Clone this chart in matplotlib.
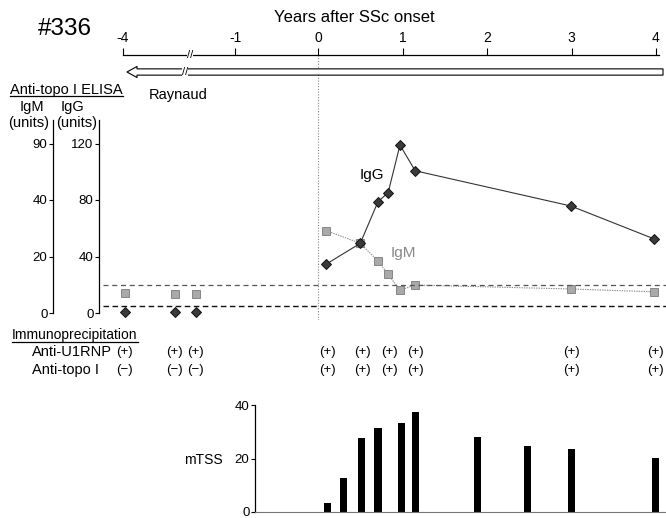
import numpy as np
import matplotlib
matplotlib.use('Agg')
import matplotlib.pyplot as plt
from matplotlib import transforms
from matplotlib.lines import Line2D

plt.rcParams['font.family'] = ['Liberation Sans', 'DejaVu Sans']

# ---------------- data ----------------
year_ticks = [-4, -1, 0, 1, 2, 3, 4]
year_labels = ['-4', '-1', '0', '1', '2', '3', '4']
elisa_years = [-3.95, -2.61, -2.05, 0.10, 0.50, 0.71, 0.83, 0.97, 1.15, 2.99, 3.98]
igg_units = [0.5, 0.5, 0.5, 34.7, 49.3, 78.8, 85.2, 118.9, 100.7, 75.8, 52.4]
igm_units = [7.2, 6.6, 6.6, 29.1, 24.7, 18.4, 13.7, 8.1, 9.9, 8.5, 7.5]
igg_ticks = [0, 40, 80, 120]
igm_ticks = [0, 20, 40, 90]
igm_cutoff = 10
igg_cutoff = 5
ip_years = [-3.97, -2.61, -2.05, 0.11, 0.52, 0.84, 1.15, 3.00, 3.99]
anti_u1rnp = ['(+)'] * 9
anti_topo = ['(\u2212)'] * 3 + ['(+)'] * 6
mtss_years = [0.11, 0.30, 0.51, 0.71, 0.99, 1.15, 1.89, 2.48, 3.00, 3.99]
mtss = [3.5, 12.8, 27.8, 31.5, 33.3, 37.4, 28.0, 24.7, 23.6, 20.3]
mtss_ticks = [0, 20, 40]

W, H = 666, 518
fig = plt.figure(figsize=(W / 100, H / 100), dpi=100)


def rect(l, t, r, b):
    return [l / W, 1 - b / H, (r - l) / W, (b - t) / H]


# broken time axis: years before -1 are compressed
c = 0.442
YR = np.array([-9.0, -4.0, -1.0, 0.0, 7.0])
P = np.array([-2.308 - 5 * c, -2.308, -0.982, 0.0, 7.0])


def fwd(y):
    return np.interp(y, YR, P)


def inv(p):
    return np.interp(p, P, YR)


def px2yr(px):
    return float(inv((px - 318) / 84.5))


# IgM axis scale (non-linear 0-20-40-90)
MV = np.array([-100.0, 0, 20, 40, 90, 500])
GV = np.array([-200.0, 0, 40, 80, 120, 448])


def mf(v):
    return np.interp(v, MV, GV)


def mi(g):
    return np.interp(g, GV, MV)


# ---------------- ELISA panel ----------------
ax = fig.add_axes(rect(99, 55, 666, 320))
ax.set_xscale('function', functions=(fwd, inv))
ax.set_xlim(px2yr(99), px2yr(666))
ylo, yhi = -(320 - 313) / 1.4125, (313 - 55) / 1.4125
ax.set_ylim(ylo, yhi)

ax_m = ax.twinx()
ax_m.set_yscale('function', functions=(mf, mi))
ax_m.set_ylim(float(mi(ylo)), float(mi(yhi)))
ax.set_zorder(ax_m.get_zorder() + 1)
ax.patch.set_visible(False)

ea = np.array(elisa_years)
late = ea >= 0
igm_a = np.array(igm_units)
igg_a = np.array(igg_units)

ax_m.plot(ea[late], igm_a[late], color='#8a8a8a', lw=0.8, ls=(0, (1.2, 1)))
ax_m.plot(ea, igm_a, ls='none', marker='s', ms=5.6, mfc='#a9a9a9', mec='#7a7a7a', mew=0.6)
ax_m.axhline(igm_cutoff, xmin=0.007, color='#555', ls=(0, (4, 3)), lw=0.9)

ax.plot(ea[late], igg_a[late], color='#333', lw=0.8)
ax.plot(ea, igg_a, ls='none', marker='D', ms=5, mfc='#3a3a3a', mec='#111', mew=0.7)
ax.axhline(igg_cutoff, xmin=0.007, color='#111', ls=(0, (4, 2.5)), lw=1.0)
ax.axvline(0, color='#888', ls=(0, (1, 1.5)), lw=0.8)

ax.text(px2yr(372), (313 - 175) / 1.4125, 'IgG', fontsize=11, ha='center', va='center')
ax_m.text(px2yr(403), float(mi((313 - 253) / 1.4125)), 'IgM', fontsize=11,
          ha='center', va='center', color='#888')

# spines / ticks main
for s in ['bottom', 'right']:
    ax.spines[s].set_visible(False)
ax.spines['top'].set_bounds(-4, px2yr(659))
ax.spines['left'].set_bounds(0, 136.6)
ax.spines['top'].set_linewidth(0.9)
ax.spines['left'].set_linewidth(0.9)
ax.xaxis.tick_top()
ax.set_xticks(year_ticks)
ax.set_xticklabels(year_labels)
ax.minorticks_off()
ax.tick_params(axis='x', direction='out', length=5, width=0.8, labelsize=10, pad=2)
ax.set_yticks(igg_ticks)
ax.tick_params(axis='y', direction='out', length=3, width=0.8, labelsize=9.5, pad=1)

for s in ['right', 'top', 'bottom']:
    ax_m.spines[s].set_visible(False)
ax_m.spines['left'].set_visible(True)
ax_m.spines['left'].set_position(('axes', -(99 - 53) / 567))
ax_m.spines['left'].set_bounds(0, float(mi(136.6)))
ax_m.spines['left'].set_linewidth(0.9)
ax_m.yaxis.tick_left()
ax_m.set_yticks(igm_ticks)
ax_m.minorticks_off()
ax_m.tick_params(axis='y', direction='out', length=3, width=0.8, labelsize=9.5, pad=1)

# Raynaud arrow and breaks
trans_xa = transforms.blended_transform_factory(ax.transData, ax.transAxes)
ya = (320 - 72) / 265
ax.annotate('', xy=(px2yr(127), ya), xytext=(px2yr(663), ya),
            xycoords=trans_xa, textcoords=trans_xa, annotation_clip=False,
            arrowprops=dict(arrowstyle='simple,head_length=0.72,head_width=0.8,tail_width=0.45',
                            fc='white', ec='black', lw=0.8, shrinkA=0, shrinkB=0,
                            mutation_scale=10))
for bx, by in [(190, 1.0), (185, ya)]:
    ax.text(px2yr(bx), by, '//', transform=trans_xa, fontsize=8, ha='center', va='center',
            clip_on=False, zorder=5,
            bbox=dict(facecolor='white', edgecolor='none', pad=0.2))

# ---------------- figure texts ----------------
def ft(x, y, s, **kw):
    return fig.text(x / W, 1 - y / H, s, **kw)


ft(65, 29, '#336', fontsize=17.5, ha='center', va='center')
ft(354, 17, 'Years after SSc onset', fontsize=12, ha='center', va='center')
t_elisa = ft(10, 90, 'Anti-topo I ELISA', fontsize=10.5, ha='left', va='center')
ft(178, 95, 'Raynaud', fontsize=10.5, ha='center', va='center')
ft(32, 107, 'IgM', fontsize=10.5, ha='center', va='center')
ft(73, 107, 'IgG', fontsize=10.5, ha='center', va='center')
ft(29, 123, '(units)', fontsize=10.5, ha='center', va='center')
ft(77, 123, '(units)', fontsize=10.5, ha='center', va='center')
t_ip = ft(12, 335, 'Immunoprecipitation', fontsize=10, ha='left', va='center')
ft(32, 352, 'Anti-U1RNP', fontsize=10.5, ha='left', va='center')
ft(32, 370, 'Anti-topo I', fontsize=10.5, ha='left', va='center')
ft(203, 460, 'mTSS', fontsize=10, ha='center', va='center')

trans_xf = transforms.blended_transform_factory(ax.transData, fig.transFigure)
for yr, s1, s2 in zip(ip_years, anti_u1rnp, anti_topo):
    ax.text(yr, 1 - 352 / H, s1, transform=trans_xf, fontsize=9.5, ha='center', va='center',
            clip_on=False)
    ax.text(yr, 1 - 370 / H, s2, transform=trans_xf, fontsize=9.5, ha='center', va='center',
            clip_on=False)

# ---------------- mTSS bars ----------------
axb = fig.add_axes(rect(255, 403, 666, 512))
axb.set_xscale('function', functions=(fwd, inv))
axb.set_xlim(px2yr(255), px2yr(666))
axb.set_ylim(0, (512 - 403) / 2.675)
axb.bar(mtss_years, mtss, width=0.083, color='black')
for s in ['top', 'right']:
    axb.spines[s].set_visible(False)
axb.spines['bottom'].set_color('#777')
axb.spines['bottom'].set_linewidth(0.8)
axb.spines['left'].set_bounds(0, 40)
axb.spines['left'].set_linewidth(0.9)
axb.set_xticks([])
axb.minorticks_off()
axb.set_yticks(mtss_ticks)
axb.tick_params(axis='y', direction='out', length=3, width=0.8, labelsize=9.5, pad=1)

# underlines
fig.canvas.draw()
inv_fig = fig.transFigure.inverted()
for t in (t_elisa, t_ip):
    bb = t.get_window_extent().transformed(inv_fig)
    yline = bb.y0 + 0.5 / H
    fig.add_artist(Line2D([bb.x0, bb.x1], [yline, yline], transform=fig.transFigure,
                          color='black', lw=0.9))

fig.savefig('out.png', dpi=100)
